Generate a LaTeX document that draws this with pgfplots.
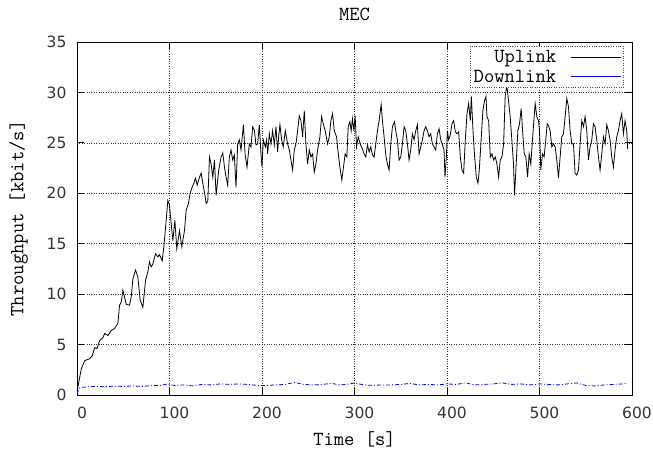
\documentclass[border=0pt]{standalone}
\usepackage{pgfplots}
\usepackage{fontspec}
\newfontfamily\ticksf{DejaVu Sans}
\pgfplotsset{compat=1.18}
\usetikzlibrary{calc}

\pgfplotstableread{
t v
0 0.3
2.9 1.75
4.7 2.6
8.3 3.4
13.7 3.6
16.5 3.9
19.1 4.7
21.6 4.6
24.5 5.4
28.1 5.7
29.9 6.1
33.5 5.9
37.1 6.4
40.6 6.6
44.2 7.1
46.0 8.9
47.8 9.2
49.6 10.4
51.4 9.7
53.2 9.0
56.8 8.9
58.6 9.7
60.4 11.5
63.3 12.4
65.8 11.7
68.3 9.4
71.2 8.7
74.1 11.4
76.6 12.2
78.4 13.2
80.2 12.7
82.0 13.0
84.9 14.0
87.4 13.7
89.2 13.9
92.1 13.3
93.9 14.7
96.4 17.3
98.2 19.3
100.0 18.8
101.8 17.0
103.6 15.3
105.8 17.3
107.9 14.5
110.8 16.3
113.3 14.7
116.2 16.3
118.0 18.3
120.5 19.0
122.3 20.0
124.5 20.6
126.3 21.0
128.1 21.5
129.9 20.8
132.4 21.6
134.2 22.0
136.0 21.0
137.8 20.1
139.6 19.0
141.4 19.2
143.2 23.6
145.0 22.9
146.8 21.6
148.6 23.3
150.4 19.8
153.2 22.3
155.8 23.6
157.6 24.0
159.4 22.6
161.2 21.6
162.9 20.8
164.7 23.6
166.5 24.3
168.3 23.3
170.1 23.8
171.9 20.6
173.7 24.9
175.5 25.3
177.3 24.3
179.9 26.8
181.7 23.9
183.8 22.6
186.3 24.9
188.1 24.6
189.9 26.6
191.7 26.3
193.5 24.8
195.3 24.9
197.1 26.8
198.9 23.9
200.0 22.6
201.4 25.3
203.6 24.6
205.0 25.3
206.1 23.9
207.9 25.9
209.7 24.9
211.5 26.2
213.3 24.8
215.1 26.6
216.9 24.1
218.0 25.6
219.4 26.8
221.2 25.3
223.0 24.6
225.2 26.2
227.7 24.9
229.5 24.3
231.3 23.3
233.1 22.3
234.9 24.3
236.7 24.9
238.5 26.2
240.3 27.7
242.1 27.2
243.9 25.6
245.7 28.2
247.5 24.9
249.3 22.9
251.1 24.3
252.9 23.6
254.7 23.9
256.5 22.1
258.3 22.9
260.1 24.3
262.6 25.6
264.4 27.6
266.2 26.9
268.3 26.2
270.9 24.9
272.7 25.6
274.5 27.2
276.3 27.9
278.1 26.2
280.6 25.6
282.0 24.3
284.2 22.6
286.3 21.3
288.1 22.6
289.9 23.9
291.7 23.6
293.2 26.6
295.0 27.1
296.4 26.2
297.8 27.4
299.3 26.2
300.7 27.7
302.2 24.6
304.0 25.6
306.1 24.9
308.6 24.4
310.4 23.9
312.2 23.6
314.0 24.8
315.8 24.1
317.6 24.6
319.4 23.8
321.2 23.6
323.0 24.9
324.8 26.2
326.6 27.2
328.8 28.8
330.2 27.2
332.0 25.6
333.8 23.8
335.6 22.9
337.4 22.3
339.2 24.9
341.0 26.6
343.2 27.1
344.6 26.2
346.4 25.3
348.2 23.3
350.0 23.6
351.8 24.9
353.6 26.6
355.4 26.2
357.2 24.9
359.0 23.3
360.8 24.3
362.6 25.9
364.4 25.3
366.2 26.2
368.0 26.8
369.8 23.9
371.6 24.6
373.4 25.3
375.2 26.2
377.0 26.6
378.8 26.2
380.6 25.6
382.4 25.9
384.2 24.9
386.0 24.6
387.8 24.3
389.6 25.9
391.4 26.4
393.2 25.3
395.0 24.8
396.8 24.3
397.8 21.6
399.3 23.6
400.4 26.2
401.8 25.3
403.6 25.8
405.4 26.9
407.2 27.2
409.0 26.1
410.8 25.9
412.6 26.1
414.4 23.6
416.2 22.3
418.0 22.0
419.8 25.3
421.6 27.9
423.4 28.9
425.2 27.2
426.3 29.6
428.1 26.2
429.9 23.6
431.7 21.6
433.5 21.0
434.9 22.3
437.1 25.6
438.8 28.2
440.6 29.2
442.1 29.6
443.2 27.6
445.0 27.2
446.8 23.6
448.6 23.9
450.4 23.3
452.2 23.6
454.0 22.9
455.8 21.6
457.6 23.3
459.4 23.6
461.2 24.9
462.9 29.6
464.7 30.7
466.5 29.2
468.3 27.6
470.1 25.3
471.9 22.9
473.0 19.8
474.8 22.9
476.6 26.2
478.4 26.9
480.2 28.4
481.7 26.2
483.5 23.9
485.3 23.6
487.1 21.6
488.8 23.9
490.6 22.9
492.4 25.3
493.9 27.2
495.3 28.9
497.1 27.6
498.9 27.2
500.0 26.2
501.4 22.3
503.2 23.9
505.0 23.6
506.8 25.3
508.3 26.9
509.7 26.7
511.5 26.2
513.3 24.6
515.1 24.9
516.9 24.6
518.7 23.3
520.5 21.5
522.3 23.6
524.1 25.6
525.9 25.9
527.7 27.6
529.5 29.4
531.3 28.6
533.1 26.2
534.9 24.9
536.7 24.9
538.5 22.0
540.3 21.8
542.1 22.3
543.9 24.9
545.7 27.2
547.5 26.6
549.3 27.6
551.1 26.2
552.9 23.3
554.7 24.6
556.5 25.3
558.3 26.9
560.1 26.6
561.9 25.3
563.7 23.6
565.5 22.3
567.3 23.9
569.1 25.6
570.9 24.9
572.7 26.8
574.5 26.2
576.3 25.3
578.1 23.6
579.9 22.6
581.7 24.3
583.5 25.6
585.3 26.2
587.1 27.2
588.9 27.9
590.7 25.9
592.5 27.2
594.3 26.2
595.3 24.4
}\uplink

\pgfplotstableread{
t v
0 0.1
2 0.6
4 0.75
10 0.8
20 0.85
30 0.82
40 0.88
50 0.85
60 0.9
70 0.85
80 0.92
90 0.95
98 1.1
105 0.95
115 1.0
125 0.9
135 1.05
145 1.0
155 1.1
165 1.05
175 1.1
185 1.05
195 0.95
205 0.95
215 1.0
225 1.05
235 1.25
245 1.05
255 1.0
265 1.05
275 1.15
285 1.0
295 1.1
300 1.2
310 1.0
320 0.95
330 1.0
340 1.0
350 1.05
360 1.15
370 1.0
380 1.05
390 1.0
400 1.1
410 1.05
420 1.2
430 1.0
440 1.05
450 1.1
460 1.2
470 1.05
480 1.1
490 1.0
500 1.1
510 1.05
520 1.0
530 1.1
540 1.2
550 0.95
560 0.9
570 1.0
580 1.05
590 1.1
595 1.15
}\downlink

\begin{document}
\begin{tikzpicture}
\begin{axis}[
    name=main,
    scale only axis,
    width=555pt, height=353pt,
    xmin=0, xmax=600, ymin=0, ymax=35,
    xtick={0,100,...,600},
    ytick={0,5,...,35},
    font=\ttfamily\fontsize{20}{22}\selectfont,
    /pgf/number format/assume math mode=true,
    tick label style={font=\ticksf\fontsize{15.5}{16}\selectfont, text=black!80},
    yticklabel style={xshift=-7pt},
    xticklabel style={xshift=5pt, yshift=-8pt},
    title={MEC},
    title style={yshift=12pt},
    xlabel={Time [s]},
    xlabel style={yshift=-6pt},
    ylabel={Throughput [kbit/s]},
    ylabel style={yshift=12pt},
    grid=major,
    major grid style={dotted, black!80, line width=0.6pt},
    tick align=inside,
    major tick length=7pt,
    axis line style={line width=0.9pt},
    tick style={line width=0.8pt, black},
    legend plot pos=right,
    legend cell align=right,
    legend style={at={(0.984,0.989)}, anchor=north east,
      draw=black!70, dotted, inner xsep=2pt, inner ysep=2pt,
      row sep=2pt, column sep=12pt,
      font=\ttfamily\fontsize{20}{18}\selectfont},
    legend image code/.code={\draw[#1, solid] (0pt,0pt) -- (50pt,0pt);},
]
\addplot[black, line width=0.8pt] table[x=t, y=v] {\uplink};
\addlegendentry{Uplink}
\addplot[blue, line width=0.8pt, dash pattern=on 4pt off 2pt on 1pt off 2pt] table[x=t, y=v] {\downlink};
\addlegendentry{Downlink}
\end{axis}
\pgfresetboundingbox
\path ($(main.south west)+(-77pt,-60pt)$) rectangle ($(main.north east)+(21pt,42pt)$);
\end{tikzpicture}
\end{document}
